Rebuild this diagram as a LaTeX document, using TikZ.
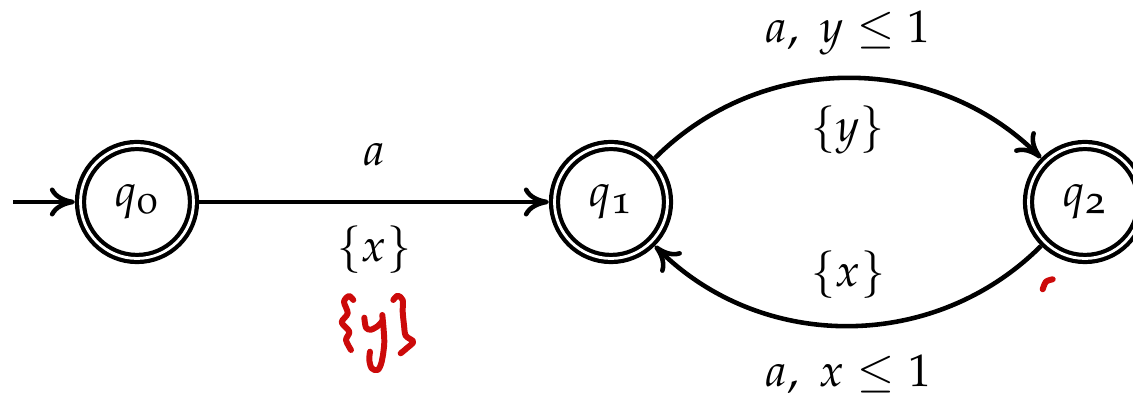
\documentclass[tikz,border=0pt]{standalone}
\usepackage[T1]{fontenc}
\usepackage[osf]{mathpazo}
\usepackage{amsmath}
\usepackage{tikz}
\usetikzlibrary{arrows.meta,positioning}
\definecolor{inkred}{RGB}{204,10,10}
\newcommand{\idx}[1]{\text{\fontsize{11.5}{13}\selectfont #1}}

\begin{document}
\begin{tikzpicture}[
  node distance=4.74cm,
  font=\fontsize{13}{16}\selectfont,
  loc/.style={draw, circle, on grid, line width=1.2pt, double, double distance=0.8pt, minimum size=1.13cm, inner sep=0pt, outer sep=1.6pt},
  arr/.style={-{To[length=2.5mm, width=2.9mm]}, line width=1.3pt},
  ink/.style={inkred, line width=1.7pt, line cap=round, line join=round}
]
  \useasboundingbox (0,0) rectangle (11.33,-3.99);
  \node[loc] (q0) at (1.37,-2.02) {$q_{\idx{0}}$};
  \node[loc, right=of q0] (q1) {$q_{\idx{1}}$};
  \node[loc, right=of q1] (q2) {$q_{\idx{2}}$};
  \coordinate (init) at (0.13,-2.02);

  \draw[arr] (init) -- (q0);
  \draw[arr] (q0) -- node[above=2.2mm]{$a$} node[below=1mm]{$\{x\}$} (q1);
  \draw[arr] (q1) to[bend left=45] node[above=0.9mm]{$a,\ y\leq 1$} node[below=1.4mm]{$\{y\}$} (q2);
  \draw[arr] (q2) to[bend left=45] node[above=1.4mm]{$\{x\}$} node[below=1.5mm]{$a,\ x\leq 1$} (q1);

  % handwritten {y}
  \draw[ink] plot[smooth] coordinates {(3.533,-3.00) (3.49,-2.96) (3.44,-3.017) (3.477,-3.133) (3.417,-3.223) (3.493,-3.317) (3.46,-3.40) (3.51,-3.50)};
  \draw[ink] plot[smooth] coordinates {(3.643,-3.177) (3.66,-3.277) (3.71,-3.297) (3.783,-3.257) (3.823,-3.21)};
  \draw[ink] plot[smooth] coordinates {(3.823,-3.15) (3.843,-3.417) (3.817,-3.617) (3.777,-3.70) (3.717,-3.683) (3.693,-3.60) (3.70,-3.517)};
  \draw[ink] plot[smooth] coordinates {(3.933,-3.00) (3.977,-2.957) (4.027,-3.00) (4.027,-3.117) (4.04,-3.25) (4.057,-3.357) (4.133,-3.417) (4.067,-3.483) (4.007,-3.533)};
  \draw[ink] plot[smooth] coordinates {(10.427,-2.893) (10.46,-2.817) (10.527,-2.793)};
\end{tikzpicture}
\end{document}
